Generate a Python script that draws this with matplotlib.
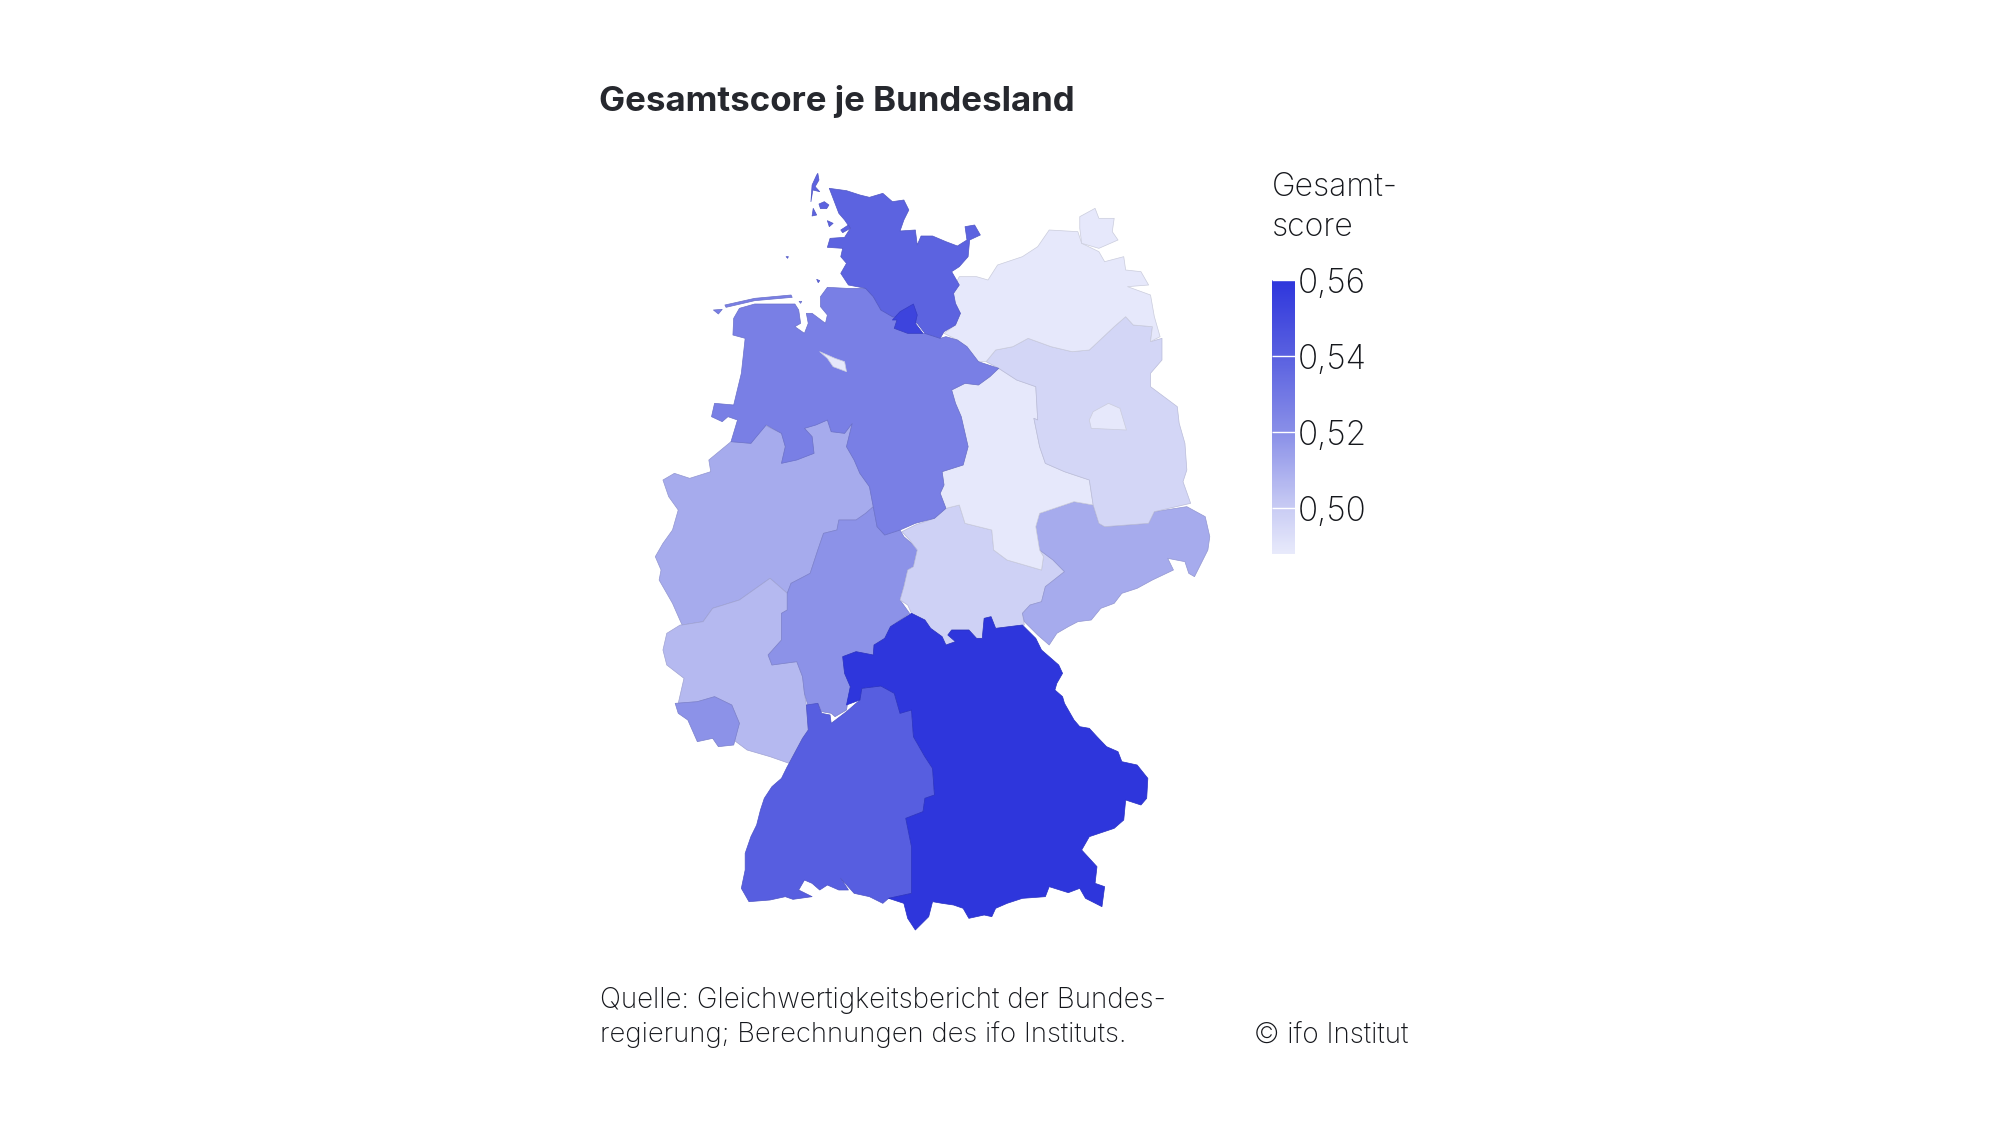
import matplotlib
matplotlib.use("Agg")
import matplotlib.pyplot as plt
from matplotlib.colors import LinearSegmentedColormap, Normalize, to_rgb
from matplotlib.patches import Polygon
from matplotlib.cm import ScalarMappable

TITLE = "Gesamtscore je Bundesland"
LEGEND_TITLE = "Gesamt-\nscore"
SOURCE = "Quelle: Gleichwertigkeitsbericht der Bundes-\nregierung; Berechnungen des ifo Instituts."
COPYRIGHT = "© ifo Institut"
TICKS = [0.50, 0.52, 0.54, 0.56]
TICK_LABELS = ["0,50", "0,52", "0,54", "0,56"]

SCORES = {
    "Bayern": 0.56, "Hamburg": 0.553, "Baden-Württemberg": 0.541, "Schleswig-Holstein": 0.539,
    "Niedersachsen": 0.527, "Hessen": 0.519, "Saarland": 0.519, "Nordrhein-Westfalen": 0.511,
    "Sachsen": 0.511, "Rheinland-Pfalz": 0.506, "Thüringen": 0.498, "Brandenburg": 0.496,
    "Sachsen-Anhalt": 0.489, "Mecklenburg-Vorpommern": 0.489, "Berlin": 0.489, "Bremen": 0.489,
}

# State outlines, in map units
SH = [(495,85),(540,92),(575,105),(600,112),(635,100),(660,125),(690,120),(703,150),(690,180),(680,213),(720,210),(725,255),(735,228),(765,228),(800,245),(830,258),(855,240),(850,200),(875,195),(890,225),(862,240),(858,290),(835,320),(815,335),(835,375),(820,400),(825,430),(838,460),(825,495),(795,515),(785,535),(745,520),(725,490),(660,470),(630,450),(610,410),(590,385),(545,375),(525,340),(540,310),(525,290),(530,265),(490,262),(497,235),(535,232),(550,205),(535,180),(520,160),(510,130)]
SH_ISLANDS = [
    [(465,40),(468,60),(458,80),(470,95),(452,90),(447,125),(450,75),(462,45)],
    [(468,132),(482,125),(494,135),(488,146),(472,146)],
    [(453,145),(462,165),(450,168)],
    [(490,182),(505,190),(495,200)],
    [(525,210),(545,195),(550,205),(530,218)],
    [(382,290),(388,290),(386,295)],
    [(462,358),(470,362),(466,368)],
]
NI = [(260,445),(300,432),(405,432),(415,450),(420,490),(405,500),(430,520),(440,490),(435,460),(450,460),(485,490),(490,465),(472,440),(472,410),(490,382),(540,385),(590,385),(610,410),(630,450),(660,470),(672,480),(665,505),(700,520),(745,520),(785,535),(800,530),(830,540),(855,560),(885,605),(938,625),(915,650),(885,675),(850,670),(815,690),(825,730),(840,770),(850,820),(858,860),(845,915),(790,935),(795,975),(785,1000),(800,1045),(770,1075),(720,1090),(680,1110),(640,1125),(620,1100),(610,1040),(600,980),(575,940),(560,900),(540,860),(555,790),(535,820),(500,815),(490,780),(460,795),(430,805),(450,830),(455,880),(410,900),(370,910),(380,860),(370,820),(330,795),(290,850),(238,845),(255,780),(230,770),(215,785),(187,770),(195,730),(245,735),(265,640),(275,535),(243,525),(245,475)]
NI_ISLANDS = [
    [(192,450),(215,448),(205,462)],
    [(222,435),(300,415),(395,405),(398,412),(300,422),(225,442)],
    [(416,424),(423,424),(420,430)],
]
NW = [(60,960),(90,940),(130,955),(185,935),(180,900),(238,845),(290,850),(325,795),(370,820),(380,860),(370,910),(455,880),(450,830),(430,805),(490,780),(500,815),(535,820),(555,790),(540,860),(560,900),(575,940),(600,980),(610,1040),(590,1060),(565,1080),(520,1080),(515,1110),(480,1120),(465,1170),(455,1205),(445,1240),(395,1270),(385,1300),(340,1255),(260,1320),(190,1345),(165,1385),(110,1395),(85,1330),(50,1260),(55,1230),(40,1190),(60,1150),(85,1110),(100,1050),(75,1010)]
HE = [(465,1170),(480,1120),(515,1110),(520,1080),(565,1080),(590,1060),(610,1040),(620,1100),(640,1125),(680,1110),(690,1130),(730,1170),(725,1170),(715,1220),(700,1230),(690,1280),(680,1320),(705,1360),(655,1400),(640,1435),(612,1455),(610,1485),(565,1475),(530,1490),(535,1540),(550,1580),(540,1650),(510,1670),(500,1660),(475,1655),(465,1630),(440,1640),(430,1600),(425,1550),(410,1505),(345,1515),(335,1485),(370,1440),(370,1360),(385,1350),(385,1300),(395,1270),(445,1240),(455,1205)]
RP = [(105,1395),(70,1420),(60,1470),(70,1515),(115,1555),(100,1630),(150,1625),(195,1610),(240,1635),(260,1690),(245,1740),(280,1770),(340,1790),(390,1810),(425,1735),(440,1710),(435,1635),(430,1600),(425,1550),(410,1505),(345,1515),(335,1485),(370,1440),(370,1360),(385,1350),(385,1300),(340,1255),(260,1320),(190,1345),(165,1385),(110,1395)]
SL = [(92,1630),(150,1625),(195,1610),(240,1635),(260,1690),(245,1755),(205,1760),(190,1735),(150,1745),(125,1680),(100,1660)]
BW = [(390,1810),(425,1735),(440,1710),(435,1635),(465,1630),(475,1660),(497,1665),(500,1690),(540,1655),(575,1620),(580,1585),(630,1578),(665,1600),(680,1660),(710,1650),(715,1730),(745,1790),(765,1825),(770,1905),(745,1915),(740,1955),(695,1975),(710,2060),(710,2200),(650,2215),(635,2230),(600,2210),(560,2200),(525,2155),(545,2190),(520,2190),(490,2175),(470,2190),(450,2170),(430,2160),(415,2190),(450,2210),(400,2218),(380,2210),(340,2220),(285,2225),(265,2185),(275,2130),(275,2080),(290,2030),(305,1995),(315,1950),(325,1915),(345,1880),(370,1855),(385,1820)]
BY = [(710,1360),(745,1380),(760,1405),(790,1430),(800,1455),(825,1445),(805,1425),(815,1410),(860,1410),(880,1435),(895,1435),(900,1375),(918,1370),(930,1405),(1000,1395),(1035,1435),(1050,1470),(1095,1515),(1105,1540),(1090,1570),(1085,1590),(1105,1610),(1110,1630),(1125,1660),(1135,1680),(1150,1700),(1175,1705),(1195,1730),(1220,1760),(1250,1775),(1260,1805),(1300,1815),(1328,1855),(1325,1915),(1310,1935),(1270,1920),(1265,1980),(1240,2005),(1175,2030),(1155,2070),(1195,2120),(1190,2170),(1215,2180),(1208,2240),(1165,2215),(1150,2185),(1120,2198),(1070,2180),(1060,2210),(1000,2215),(960,2230),(930,2245),(920,2270),(900,2265),(860,2275),(845,2245),(820,2235),(790,2230),(765,2225),(755,2270),(720,2310),(700,2275),(690,2230),(650,2215),(710,2200),(710,2060),(695,1975),(740,1955),(745,1915),(770,1905),(765,1825),(745,1790),(715,1730),(710,1650),(680,1660),(665,1600),(630,1578),(580,1585),(575,1620),(540,1635),(550,1580),(535,1540),(530,1490),(565,1475),(610,1485),(612,1455),(640,1435),(655,1400)]
TH = [(685,1115),(720,1095),(770,1075),(800,1045),(835,1035),(850,1090),(920,1110),(925,1170),(960,1200),(1050,1230),(1055,1190),(1045,1170),(1080,1200),(1110,1235),(1060,1280),(1050,1325),(1020,1335),(1000,1360),(1005,1395),(930,1405),(918,1370),(900,1375),(895,1435),(880,1435),(860,1410),(815,1410),(805,1425),(825,1445),(800,1455),(790,1430),(760,1405),(745,1380),(710,1360),(700,1335),(680,1320),(690,1280),(700,1230),(715,1220),(725,1170),(705,1140)]
SN = [(1035,1100),(1045,1060),(1135,1025),(1185,1035),(1200,1090),(1215,1100),(1330,1090),(1345,1055),(1430,1040),(1478,1070),(1490,1130),(1485,1170),(1450,1250),(1435,1240),(1425,1205),(1380,1195),(1395,1230),(1340,1260),(1300,1285),(1260,1300),(1240,1330),(1205,1345),(1180,1380),(1145,1385),(1120,1400),(1090,1420),(1070,1455),(1040,1425),(1005,1385),(1000,1360),(1020,1335),(1050,1325),(1060,1280),(1110,1235),(1080,1200),(1045,1170)]
ST = [(815,690),(850,670),(885,675),(915,650),(938,625),(985,660),(1035,680),(1040,780),(1030,775),(1045,860),(1060,910),(1110,935),(1175,960),(1185,1035),(1135,1025),(1045,1060),(1035,1100),(1045,1170),(1055,1190),(1050,1230),(960,1200),(925,1170),(920,1110),(850,1090),(835,1035),(800,1045),(785,1000),(795,975),(790,935),(845,915),(858,860),(850,820),(840,770),(825,730)]
BB = [(930,570),(975,560),(1015,535),(1075,560),(1130,575),(1175,570),(1240,500),(1270,470),(1290,495),(1340,500),(1335,545),(1365,535),(1365,600),(1335,640),(1335,680),(1405,740),(1410,790),(1425,850),(1430,930),(1420,965),(1440,1030),(1345,1055),(1330,1090),(1215,1100),(1200,1090),(1185,1035),(1175,960),(1110,935),(1060,910),(1045,860),(1030,775),(1040,780),(1035,680),(985,660),(938,625),(905,605)]
BE = [(1185,755),(1225,730),(1255,745),(1272,810),(1180,805),(1175,780)]
MV = [(795,520),(825,495),(838,460),(820,430),(815,395),(835,350),(880,350),(910,360),(935,315),(1000,290),(1040,260),(1070,210),(1145,215),(1155,250),(1200,275),(1215,305),(1265,290),(1270,330),(1310,335),(1330,375),(1275,380),(1335,405),(1345,470),(1360,530),(1335,545),(1340,500),(1290,495),(1270,470),(1240,500),(1175,570),(1130,575),(1075,560),(1015,535),(975,560),(930,570),(905,605),(885,605),(855,560),(830,540)]
MV_ISLANDS = [[(1150,170),(1190,145),(1200,175),(1240,175),(1235,215),(1250,240),(1200,265),(1155,250),(1150,205)]]
HH = [(660,480),(680,455),(715,432),(725,465),(720,490),(740,520),(700,520),(665,505),(672,480)]
HB = [(470,575),(510,595),(535,605),(540,635),(505,620),(490,595)]

SHAPES = {
    "Nordrhein-Westfalen": [NW], "Rheinland-Pfalz": [RP], "Saarland": [SL], "Hessen": [HE],
    "Thüringen": [TH], "Sachsen": [SN], "Sachsen-Anhalt": [ST], "Brandenburg": [BB], "Berlin": [BE],
    "Mecklenburg-Vorpommern": [MV] + MV_ISLANDS, "Niedersachsen": [NI] + NI_ISLANDS,
    "Bremen": [HB], "Schleswig-Holstein": [SH] + SH_ISLANDS, "Hamburg": [HH],
    "Baden-Württemberg": [BW], "Bayern": [BY],
}

CMAP_NODES = [(0.0, "#e8eafb"), (0.165, "#c9ccf4"), (0.44, "#8a90e8"), (0.72, "#5a61e0"), (1.0, "#2e36dc")]
cmap = LinearSegmentedColormap.from_list("score", CMAP_NODES)
norm = Normalize(vmin=0.488, vmax=0.56)

plt.rcParams["font.family"] = ["Inter", "DejaVu Sans"]
fig = plt.figure(figsize=(20, 11.25), dpi=100, facecolor="white")

# map axes filling the figure
X_SCALE = 2.615
ax = fig.add_axes([0, 0, 1, 1])
ax.set_xlim(-640 * X_SCALE, (2000 - 640) * X_SCALE)
ax.set_ylim((1125 - 160) * 3, -160 * 3)
ax.axis("off")
for name, rings in SHAPES.items():
    col = cmap(norm(SCORES[name]))
    edge = tuple(c * 0.88 for c in to_rgb(col))
    for ring in rings:
        ax.add_patch(Polygon(ring, closed=True, facecolor=col, edgecolor=edge, linewidth=0.5, joinstyle="round"))

W, H = 2000, 1125
INK = "#15171c"
fig.text(599 / W, 1 - 102 / H, TITLE, fontsize=25.1, fontweight="bold", color="#26282e", va="center", ha="left")
fig.text(1272 / W, 1 - 187 / H, "Gesamt-", fontsize=23, color=INK, va="center", ha="left", fontweight="light")
fig.text(1272 / W, 1 - 227 / H, "score", fontsize=23, color=INK, va="center", ha="left", fontweight="light")
src1, src2 = SOURCE.split("\n")
fig.text(600 / W, 1 - 1000 / H, src1, fontsize=20, color=INK, va="center", ha="left", fontweight="light")
fig.text(600 / W, 1 - 1035 / H, src2, fontsize=19.8, color=INK, va="center", ha="left", fontweight="light")
fig.text(1408 / W, 1 - 1035 / H, COPYRIGHT, fontsize=20, color=INK, va="center", ha="right", fontweight="light")

# colour bar
cax = fig.add_axes([1272 / W, 1 - 554 / H, 23 / W, 274 / H])
cb = fig.colorbar(ScalarMappable(norm=norm, cmap=cmap), cax=cax, orientation="vertical")
cb.outline.set_visible(False)
cb.set_ticks(TICKS)
cb.set_ticklabels(TICK_LABELS)
cax.tick_params(axis="y", direction="in", length=23 * 0.72, width=1, color="white", pad=2, labelsize=24, labelcolor=INK)
for lab in cax.get_yticklabels():
    lab.set_fontweight("light")
cb.ax.yaxis.set_ticks_position("right")

fig.savefig("out.png", dpi=100)
